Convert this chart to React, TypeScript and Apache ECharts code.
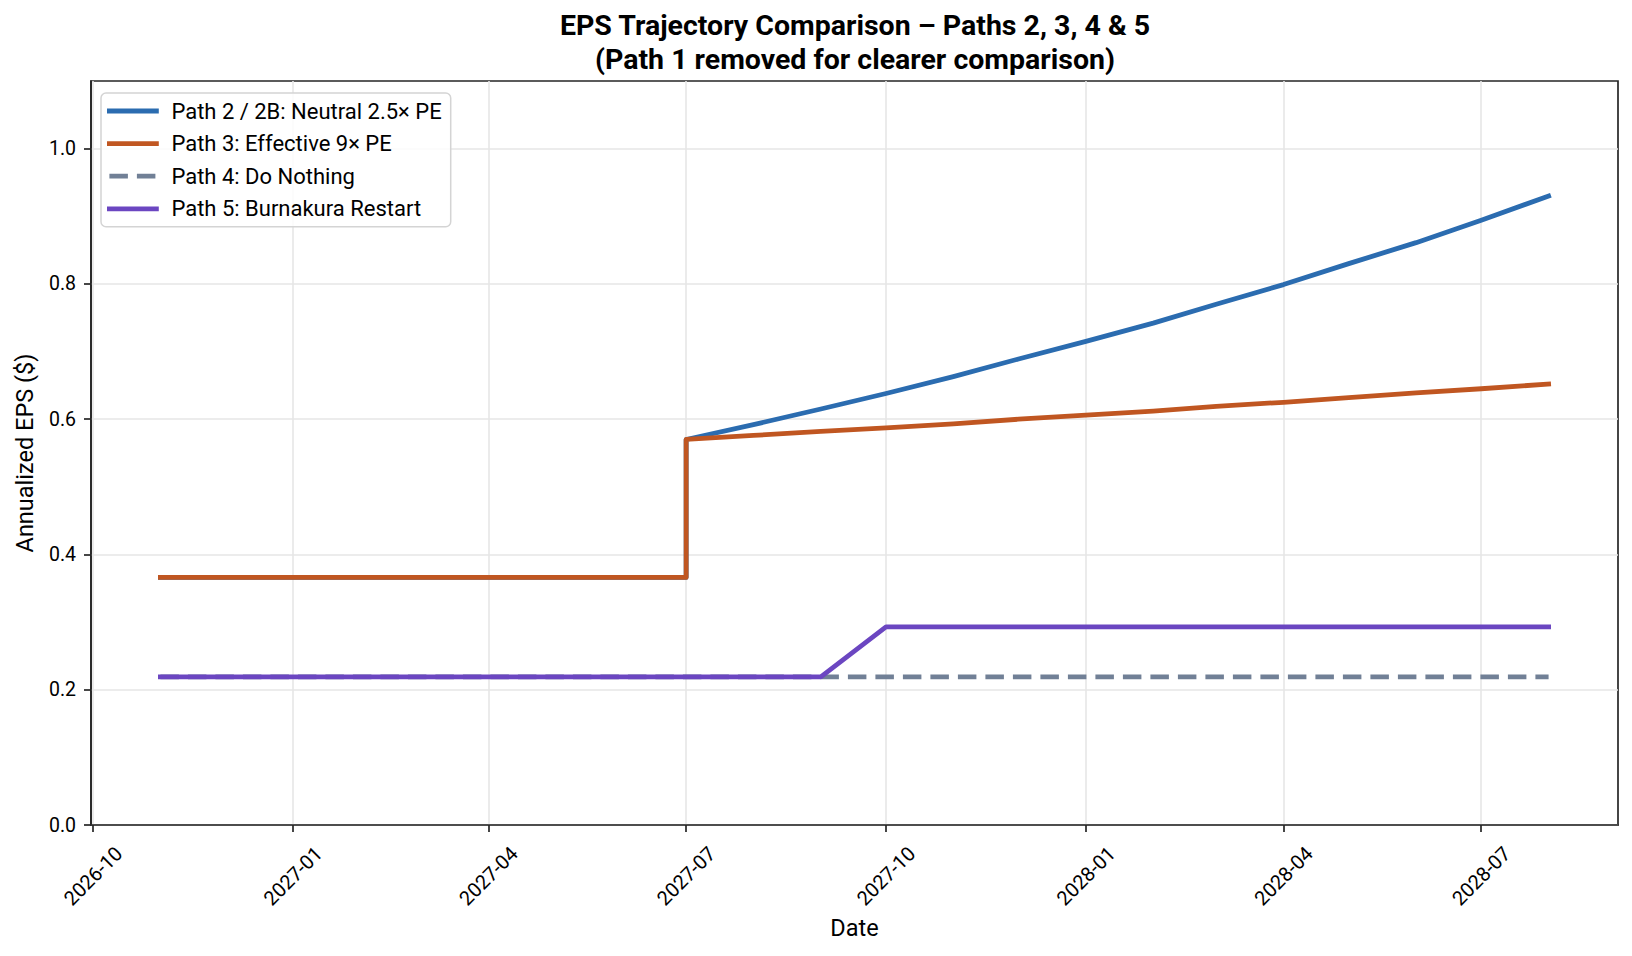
import React, { useEffect, useRef } from 'react';
import * as echarts from 'echarts';

// ---- Data ----
const dates = [
  '2026-11-01', '2026-12-01', '2027-01-01', '2027-02-01', '2027-03-01', '2027-04-01',
  '2027-05-01', '2027-06-01', '2027-07-01', '2027-07-01', '2027-08-01', '2027-09-01',
  '2027-10-01', '2027-11-01', '2027-12-01', '2028-01-01', '2028-02-01', '2028-03-01',
  '2028-04-01', '2028-05-01', '2028-06-01', '2028-07-01', '2028-08-01',
];

const path2Values = [
  0.366, 0.366, 0.366, 0.366, 0.366, 0.366, 0.366, 0.366, 0.366, 0.570, 0.592, 0.615,
  0.638, 0.663, 0.689, 0.715, 0.742, 0.770, 0.799, 0.830, 0.861, 0.894, 0.930,
];
const path3Values = [
  0.366, 0.366, 0.366, 0.366, 0.366, 0.366, 0.366, 0.366, 0.366, 0.570, 0.576, 0.582,
  0.587, 0.593, 0.600, 0.606, 0.612, 0.619, 0.625, 0.632, 0.639, 0.645, 0.652,
];
const path4Values = [
  0.219, 0.219, 0.219, 0.219, 0.219, 0.219, 0.219, 0.219, 0.219, 0.219, 0.219, 0.219,
  0.219, 0.219, 0.219, 0.219, 0.219, 0.219, 0.219, 0.219, 0.219, 0.219, 0.219,
];
const path5Values = [
  0.219, 0.219, 0.219, 0.219, 0.219, 0.219, 0.219, 0.219, 0.219, 0.219, 0.219, 0.219,
  0.293, 0.293, 0.293, 0.293, 0.293, 0.293, 0.293, 0.293, 0.293, 0.293, 0.293,
];

const seriesNames = [
  'Path 2 / 2B: Neutral 2.5× PE',
  'Path 3: Effective 9× PE',
  'Path 4: Do Nothing',
  'Path 5: Burnakura Restart',
];

const tickDates = [
  '2026-10-01', '2027-01-01', '2027-04-01', '2027-07-01',
  '2027-10-01', '2028-01-01', '2028-04-01', '2028-07-01',
];
const yTicks = [0.0, 0.2, 0.4, 0.6, 0.8, 1.0];

const titleText = 'EPS Trajectory Comparison – Paths 2, 3, 4 & 5\n(Path 1 removed for clearer comparison)';

// ---- helpers ----
const toTs = (s: string) => Date.UTC(+s.slice(0, 4), +s.slice(5, 7) - 1, +s.slice(8, 10));
const fmtMonth = (v: number) => {
  const d = new Date(v);
  return `${d.getUTCFullYear()}-${String(d.getUTCMonth() + 1).padStart(2, '0')}`;
};
const pairs = (vals: number[]) => dates.map((d, i) => [toTs(d), vals[i]]);

const FONT = 'Roboto, "Noto Sans", sans-serif';
const INK = '#262626';
const LW = 4.8;

export default function App() {
  const ref = useRef<HTMLDivElement>(null);

  useEffect(() => {
    if (!ref.current) return;
    const chart = echarts.init(ref.current, undefined, { renderer: 'svg' });

    const t0 = toTs(dates[0]);
    const t1 = toTs(dates[dates.length - 1]);
    const span = t1 - t0;
    const xTickValues = tickDates.map(toTs);

    const mk = (name: string, vals: number[], color: string, dashed: boolean) => ({
      name,
      type: 'line',
      data: pairs(vals),
      symbol: 'none',
      smooth: false,
      lineStyle: {
        color,
        width: LW,
        type: dashed ? [18.5, 9] : 'solid',
        cap: dashed ? 'butt' : 'square',
        join: 'round',
      },
      itemStyle: { color },
      emphasis: { disabled: true },
    });

    chart.setOption({
      animation: false,
      backgroundColor: '#ffffff',
      textStyle: { fontFamily: FONT },
      graphic: [
        {
          type: 'text',
          x: 855,
          y: 8,
          style: {
            text: titleText,
            fontSize: 28.5,
            fontWeight: 'bold',
            fontFamily: FONT,
            fill: '#000',
            align: 'center',
            verticalAlign: 'top',
            lineHeight: 34,
          },
        },
      ],
      legend: {
        orient: 'vertical',
        left: 101,
        top: 93,
        data: seriesNames,
        itemWidth: 47,
        itemHeight: 24,
        itemGap: 10.6,
        padding: [7, 9, 7, 6],
        backgroundColor: 'rgba(255,255,255,0.85)',
        borderColor: '#d4d4d4',
        borderWidth: 1.5,
        borderRadius: 5,
        lineStyle: { width: LW },
        itemStyle: { opacity: 0 },
        textStyle: {
          fontFamily: FONT,
          fontSize: 22,
          color: '#000',
          padding: [0, 0, 0, 10],
        },
      },
      grid: {
        left: 91,
        right: 14,
        top: 81,
        bottom: 131,
        show: true,
        borderColor: INK,
        borderWidth: 1.7,
        containLabel: false,
      },
      xAxis: {
        type: 'value',
        min: t0 - span * 0.05,
        max: t1 + span * 0.05,
        name: 'Date',
        nameLocation: 'middle',
        nameGap: 90,
        nameTextStyle: { fontFamily: FONT, fontSize: 23.5, color: '#000' },
        axisLine: { show: true, onZero: false, lineStyle: { color: INK, width: 1.7 } },
        axisTick: {
          show: true,
          length: 7,
          lineStyle: { color: INK, width: 1.7 },
          customValues: xTickValues,
        },
        axisLabel: {
          customValues: xTickValues,
          formatter: (v: number) => fmtMonth(v),
          rotate: 45,
          align: 'center',
          verticalAlign: 'middle',
          margin: 51,
          fontFamily: FONT,
          fontSize: 20,
          color: '#000',
          hideOverlap: false,
        },
        splitLine: { show: true, lineStyle: { color: '#e6e6e6', width: 1.6 } },
      },
      yAxis: {
        type: 'value',
        min: 0,
        max: 1.1,
        interval: 0.2,
        name: 'Annualized EPS ($)',
        nameLocation: 'middle',
        nameGap: 54,
        nameTextStyle: { fontFamily: FONT, fontSize: 23.5, color: '#000' },
        axisLine: { show: true, lineStyle: { color: INK, width: 1.7 } },
        axisTick: { show: true, length: 7, lineStyle: { color: INK, width: 1.7 }, customValues: yTicks },
        axisLabel: {
          customValues: yTicks,
          formatter: (v: number) => v.toFixed(1),
          margin: 15,
          fontFamily: FONT,
          fontSize: 19.5,
          color: '#000',
        },
        splitLine: { show: true, lineStyle: { color: '#e6e6e6', width: 1.6 } },
      },
      series: [
        mk(seriesNames[0], path2Values, '#2b6cb0', false),
        mk(seriesNames[1], path3Values, '#c05621', false),
        mk(seriesNames[2], path4Values, '#718096', true),
        mk(seriesNames[3], path5Values, '#6b46c1', false),
      ],
    });

    return () => chart.dispose();
  }, []);

  return (
    <div
      ref={ref}
      style={{ position: 'fixed', left: 0, top: 0, width: 1632, height: 956, background: '#fff' }}
    />
  );
}
